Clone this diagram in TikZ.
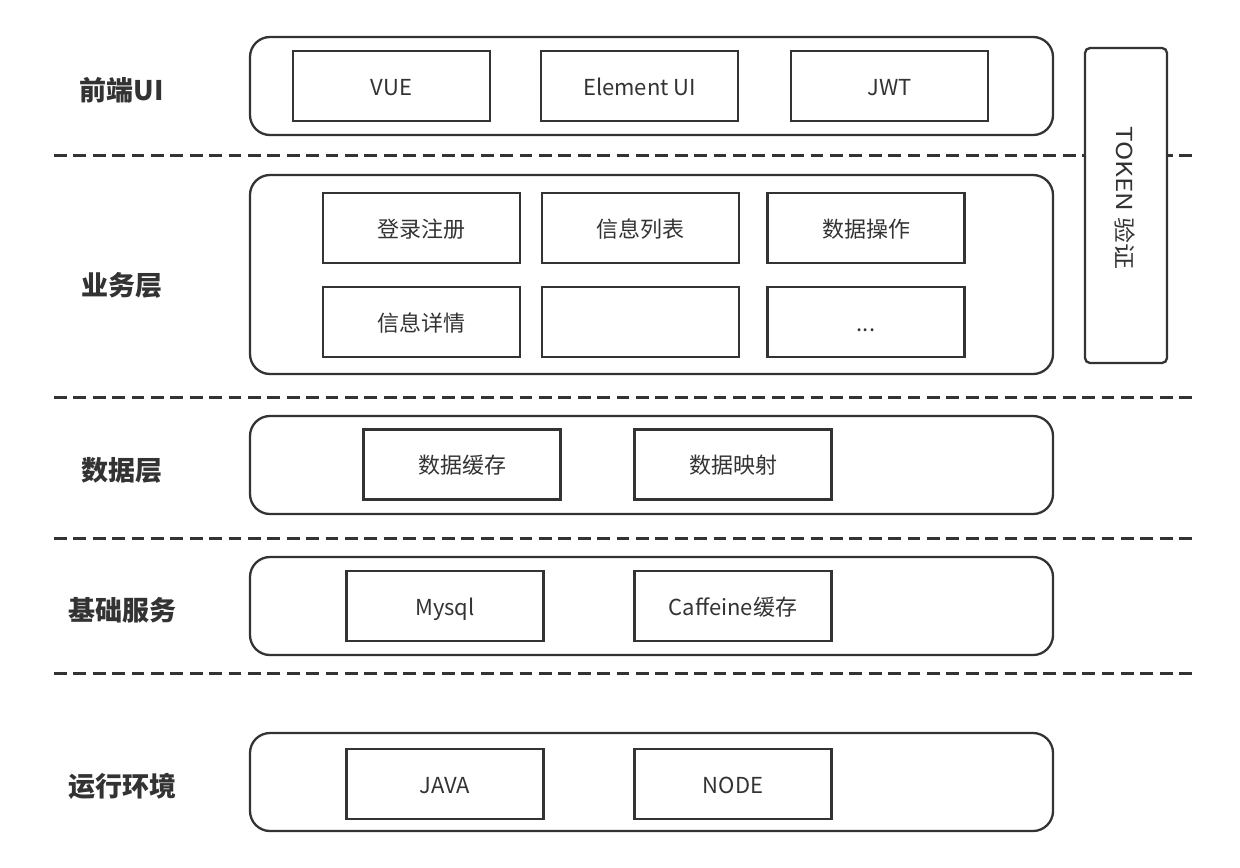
\documentclass[tikz,border=0pt]{standalone}
\usepackage{fontspec}
\setmainfont{Noto Sans CJK SC}
\definecolor{ink}{HTML}{333333}

\begin{document}
\begin{tikzpicture}[x=0.5pt,y=-0.5pt,
	layer/.style={draw=ink, line width=1.15pt, rounded corners=10pt},
	cell/.style={draw=ink, line width=1.35pt, minimum width=98.5pt, minimum height=35pt, inner sep=0pt, text height=0.95em, text depth=0.05em, text=ink, font=\fontsize{11}{13}\selectfont},
	tier/.style={text=ink, font=\fontsize{13.5}{16}\selectfont\bfseries},
	split/.style={draw=ink, line width=1.5pt, dash pattern=on 6.35pt off 3.35pt}]
\useasboundingbox (0,0) rectangle (1240,867);

\draw[split] (54,155) -- (1196,155);
\draw[split] (54,397) -- (1196,397);
\draw[split] (54,538) -- (1196,538);
\draw[split] (54,673) -- (1196,673);

\draw[layer] (250,37) rectangle (1053,135);
\draw[layer] (250,175) rectangle (1053,374);
\draw[layer] (250,416) rectangle (1053,514);
\draw[layer] (250,557) rectangle (1053,655);
\draw[layer] (250,733) rectangle (1053,831);

\draw[draw=ink, fill=white, line width=1.15pt, rounded corners=2.5pt] (1085,48) rectangle (1167,363);
\node[text=ink, font=\fontsize{11}{13}\selectfont, rotate=-90, xscale=1.18] (token) at (1125,198) {TOKEN 验证};

\node[tier] (ui) at (122,90) {前端UI};
\node[tier] (biz) at (122,285) {业务层};
\node[tier] (data) at (122,470) {数据层};
\node[tier] (base) at (122,610) {基础服务};
\node[tier] (env) at (122,786) {运行环境};

\node[cell] (vue) at (391.5,86) {VUE};
\node[cell] (elem) at (639.5,86) {Element UI};
\node[cell] (jwt) at (889.5,86) {JWT};

\node[cell] (login) at (421.5,228) {登录注册};
\node[cell] (list) at (640.5,228) {信息列表};
\node[cell] (oper) at (866,228) {数据操作};
\node[cell] (detail) at (421.5,322) {信息详情};
\node[cell] (blank) at (640.5,322) {};
\node[cell] (more) at (866,322) {...};

\node[cell] (cache) at (462,464.5) {数据缓存};
\node[cell] (mapper) at (733,464.5) {数据映射};

\node[cell] (mysql) at (445,606) {Mysql};
\node[cell] (caff) at (733,606) {Caffeine缓存};

\node[cell] (java) at (445,784) {JAVA};
\node[cell] (nodejs) at (733,784) {NODE};

\end{tikzpicture}
\end{document}
